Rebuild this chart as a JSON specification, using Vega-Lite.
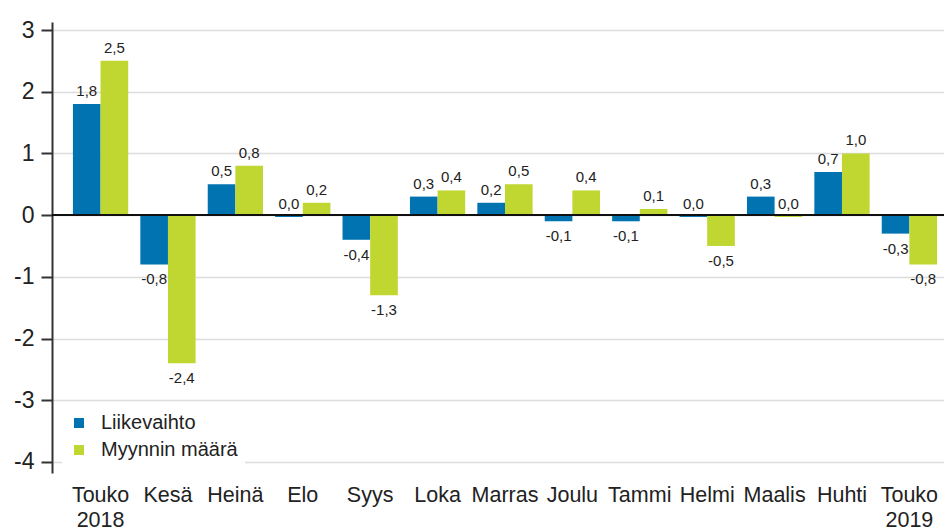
{
  "$schema": "https://vega.github.io/schema/vega-lite/v6.json",
  "width": 892,
  "height": 451,
  "autosize": "none",
  "padding": {"left": 52, "top": 22, "right": 0, "bottom": 59},
  "background": "white",
  "data": {
    "values": [
      {"kk": "Touko 2018", "sarja": "Liikevaihto", "arvo": 1.8},
      {"kk": "Touko 2018", "sarja": "Myynnin määrä", "arvo": 2.5},
      {"kk": "Kesä", "sarja": "Liikevaihto", "arvo": -0.8},
      {"kk": "Kesä", "sarja": "Myynnin määrä", "arvo": -2.4},
      {"kk": "Heinä", "sarja": "Liikevaihto", "arvo": 0.5},
      {"kk": "Heinä", "sarja": "Myynnin määrä", "arvo": 0.8},
      {"kk": "Elo", "sarja": "Liikevaihto", "arvo": -0.03},
      {"kk": "Elo", "sarja": "Myynnin määrä", "arvo": 0.2},
      {"kk": "Syys", "sarja": "Liikevaihto", "arvo": -0.4},
      {"kk": "Syys", "sarja": "Myynnin määrä", "arvo": -1.3},
      {"kk": "Loka", "sarja": "Liikevaihto", "arvo": 0.3},
      {"kk": "Loka", "sarja": "Myynnin määrä", "arvo": 0.4},
      {"kk": "Marras", "sarja": "Liikevaihto", "arvo": 0.2},
      {"kk": "Marras", "sarja": "Myynnin määrä", "arvo": 0.5},
      {"kk": "Joulu", "sarja": "Liikevaihto", "arvo": -0.1},
      {"kk": "Joulu", "sarja": "Myynnin määrä", "arvo": 0.4},
      {"kk": "Tammi", "sarja": "Liikevaihto", "arvo": -0.1},
      {"kk": "Tammi", "sarja": "Myynnin määrä", "arvo": 0.1},
      {"kk": "Helmi", "sarja": "Liikevaihto", "arvo": -0.03},
      {"kk": "Helmi", "sarja": "Myynnin määrä", "arvo": -0.5},
      {"kk": "Maalis", "sarja": "Liikevaihto", "arvo": 0.3},
      {"kk": "Maalis", "sarja": "Myynnin määrä", "arvo": -0.03},
      {"kk": "Huhti", "sarja": "Liikevaihto", "arvo": 0.7},
      {"kk": "Huhti", "sarja": "Myynnin määrä", "arvo": 1.0},
      {"kk": "Touko 2019", "sarja": "Liikevaihto", "arvo": -0.3},
      {"kk": "Touko 2019", "sarja": "Myynnin määrä", "arvo": -0.8}
    ]
  },
  "layer": [
    {
      "mark": {"type": "bar"},
      "encoding": {
        "x": {
          "field": "kk", "type": "nominal", "sort": null,
          "scale": {"paddingInner": 0.18, "paddingOuter": 0.207, "align": 0.75},
          "axis": {
            "title": null, "labelAngle": 0, "domain": false, "ticks": false,
            "labelFontSize": 21.5, "labelPadding": 11, "labelLineHeight": 25,
            "labelOverlap": false, "labelColor": "#222",
            "labelExpr": "split(datum.value, ' ')"
          }
        },
        "xOffset": {
          "field": "sarja", "type": "nominal",
          "sort": ["Liikevaihto", "Myynnin määrä"],
          "scale": {"paddingInner": 0, "paddingOuter": 0}
        },
        "y": {
          "field": "arvo", "type": "quantitative",
          "scale": {"domain": [-4.18, 3.13], "nice": false, "zero": false},
          "axis": {
            "title": null, "values": [-4, -3, -2, -1, 0, 1, 2, 3], "format": ".0f",
            "labelFontSize": 23, "labelColor": "#222", "tickSize": 11, "labelPadding": 7,
            "domainColor": "#333", "domainWidth": 2, "tickColor": "#333", "tickWidth": 2,
            "gridColor": "#dcdcdc", "gridWidth": 1.5
          }
        },
        "color": {
          "field": "sarja", "type": "nominal",
          "scale": {"domain": ["Liikevaihto", "Myynnin määrä"], "range": ["#0073B0", "#C0D631"]},
          "legend": {
            "title": null, "orient": "none", "legendX": 10, "legendY": 384,
            "fillColor": "white", "padding": 7, "symbolType": "square",
            "symbolSize": 100, "symbolStrokeWidth": 0, "labelFontSize": 20,
            "labelOffset": 12, "rowPadding": 7, "labelColor": "#222"
          }
        }
      }
    },
    {
      "transform": [{"filter": "datum.arvo >= -0.05"}],
      "mark": {"type": "text", "baseline": "alphabetic", "dy": -8, "fontSize": 15, "color": "#222"},
      "encoding": {
        "x": {"field": "kk", "type": "nominal", "sort": null},
        "xOffset": {"field": "sarja", "type": "nominal", "sort": ["Liikevaihto", "Myynnin määrä"]},
        "y": {"field": "arvo", "type": "quantitative"},
        "text": {"field": "arvo", "type": "quantitative", "format": ".1f"}
      }
    },
    {
      "transform": [{"filter": "datum.arvo < -0.05"}],
      "mark": {"type": "text", "baseline": "top", "dy": 8, "fontSize": 15, "color": "#222"},
      "encoding": {
        "x": {"field": "kk", "type": "nominal", "sort": null},
        "xOffset": {"field": "sarja", "type": "nominal", "sort": ["Liikevaihto", "Myynnin määrä"]},
        "y": {"field": "arvo", "type": "quantitative"},
        "text": {"field": "arvo", "type": "quantitative", "format": ".1f"}
      }
    },
    {
      "mark": {"type": "rule", "color": "#111", "strokeWidth": 1.5},
      "encoding": {"y": {"datum": 0}}
    }
  ],
  "config": {
    "font": "Liberation Sans",
    "view": {"stroke": null},
    "locale": {
      "number": {"decimal": ",", "thousands": " ", "grouping": [3], "currency": ["", " €"], "minus": "-"}
    }
  }
}
